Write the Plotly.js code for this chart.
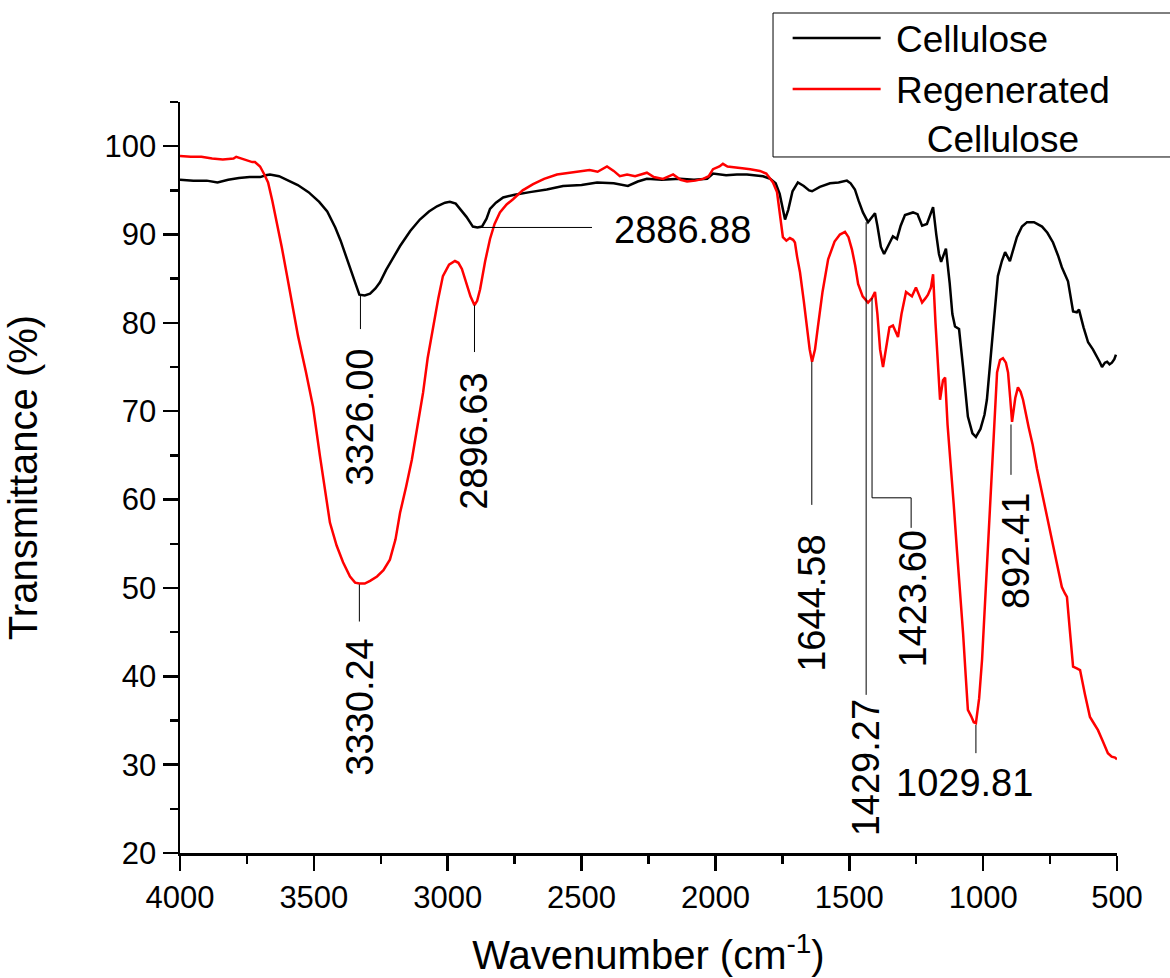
<!DOCTYPE html>
<html>
<head>
<meta charset="utf-8">
<script src="https://cdn.plot.ly/plotly-3.0.1.min.js"></script>
<style>html,body{margin:0;padding:0;background:#fff;}#chart{width:1170px;height:978px;}</style>
</head>
<body>
<div id="chart"></div>
<script>
// Cellulose (black)
const celluloseWn = [4000,3950,3900,3860,3820,3780,3740,3700,3680,3664,3630,3600,3560,3520,3480,3450,3420,3400,3380,3360,3345,3330,3310,3290,3270,3253,3230,3200,3178,3140,3104,3070,3040,3010,2992,2970,2954,2930,2906,2889,2872,2855,2842,2820,2793,2750,2693,2630,2569,2500,2442,2380,2327,2290,2256,2200,2132,2080,2031,2009,1960,1920,1882,1850,1822,1795,1775,1760,1750,1740,1728,1712,1692,1670,1650,1639,1610,1572,1540,1509,1495,1479,1465,1449,1430,1415,1404,1395,1382,1370,1355,1337,1322,1308,1292,1262,1245,1228,1210,1195,1187,1175,1165,1157,1139,1125,1115,1105,1090,1075,1057,1040,1027,1010,995,986,970,955,945,930,918,900,885,874,855,836,810,780,760,739,720,706,683,670,664,650,642,625,608,590,578,565,556,545,537,528,519,510,504];
const celluloseT = [96.2,96.1,96.1,95.9,96.2,96.4,96.5,96.5,96.7,96.8,96.6,96.2,95.6,94.8,93.7,92.6,90.8,89.3,87.5,85.8,84.6,83.2,83.1,83.3,83.9,84.6,86.0,87.6,88.7,90.4,91.7,92.6,93.2,93.6,93.7,93.5,92.9,92.0,90.9,90.8,90.9,91.8,92.9,93.6,94.2,94.5,94.8,95.1,95.5,95.6,95.9,95.8,95.5,96.0,96.3,96.2,96.3,96.2,96.3,96.9,96.7,96.8,96.8,96.7,96.6,96.3,95.8,94.6,93.2,91.7,92.8,94.9,95.9,95.5,95.0,94.9,95.4,95.8,95.9,96.1,95.8,95.1,93.8,92.5,91.4,92.0,92.4,91.0,88.6,87.8,88.8,89.8,89.5,91.0,92.2,92.5,92.3,91.0,91.2,92.4,93.1,90.0,87.8,86.9,88.4,84.5,81.0,79.6,79.3,75.0,69.4,67.5,67.1,68.0,69.6,71.3,77.0,82.5,85.3,87.0,88.0,87.0,88.5,89.7,90.9,91.4,91.4,90.9,90.2,89.1,87.6,86.3,84.7,82.5,81.3,81.2,81.5,79.5,77.8,77.0,76.4,75.6,75.0,75.5,75.6,75.3,75.5,75.9,76.4];

// Regenerated cellulose (red)
const regenWn = [4000,3960,3920,3880,3840,3800,3790,3760,3730,3720,3701,3685,3671,3655,3638,3620,3600,3580,3559,3530,3503,3477,3460,3440,3415,3391,3365,3346,3330,3310,3290,3264,3240,3216,3195,3178,3155,3134,3112,3092,3075,3055,3035,3018,2995,2973,2960,2947,2930,2915,2900,2890,2879,2860,2842,2825,2805,2780,2756,2720,2681,2640,2592,2550,2506,2470,2440,2405,2380,2357,2330,2300,2256,2230,2196,2175,2158,2130,2106,2075,2046,2025,2009,1985,1972,1955,1934,1900,1870,1834,1810,1796,1785,1770,1760,1748,1735,1722,1710,1703,1695,1684,1670,1658,1648,1639,1628,1617,1600,1579,1555,1535,1516,1503,1490,1478,1467,1450,1430,1415,1404,1395,1385,1374,1362,1350,1337,1325,1318,1305,1288,1266,1251,1240,1228,1215,1206,1195,1187,1178,1168,1161,1150,1142,1133,1124,1110,1098,1085,1075,1065,1057,1045,1035,1027,1015,1004,993,982,972,963,955,948,937,926,915,907,899,892,880,870,860,851,830,815,799,775,750,730,706,695,687,677,664,650,638,620,601,585,571,555,534,520,507,500];
const regenT = [98.9,98.8,98.8,98.6,98.5,98.6,98.8,98.5,98.2,98.2,97.7,96.8,95.9,93.8,91.4,88.6,85.3,82.0,78.5,74.5,70.5,64.9,61.5,57.4,54.8,52.9,51.3,50.6,50.5,50.5,50.8,51.3,52.0,53.2,55.5,58.5,61.5,64.5,68.5,72.1,76.0,79.6,82.8,85.3,86.6,87.0,86.8,86.1,84.5,83.0,82.0,82.5,83.8,87.0,89.5,91.2,92.5,93.4,94.0,95.0,95.7,96.3,96.8,97.0,97.2,97.3,97.1,97.7,97.2,96.6,96.8,96.6,97.0,96.5,96.3,96.6,96.8,96.2,96.0,96.1,96.3,96.6,97.4,97.7,98.0,97.7,97.6,97.5,97.4,97.2,96.9,96.3,95.9,94.8,92.5,89.7,89.3,89.6,89.4,89.1,87.5,85.7,82.5,79.6,77.0,75.6,77.0,79.6,83.5,87.2,89.2,90.0,90.3,89.7,88.3,86.5,84.4,83.0,82.3,82.8,83.5,81.0,77.0,75.0,77.5,79.5,79.7,78.8,78.4,81.0,83.5,83.0,84.0,83.2,82.3,82.8,83.2,84.0,85.5,80.0,75.0,71.3,73.5,73.8,68.5,64.5,59.5,54.3,49.5,44.9,40.0,36.2,35.5,34.8,34.7,37.5,41.9,48.0,54.3,60.5,66.0,70.5,74.4,75.8,76.0,75.5,74.4,71.5,68.8,71.5,72.7,72.2,71.3,68.2,66.2,63.5,60.0,56.3,53.3,50.1,49.4,49.0,45.5,41.1,40.9,40.7,38.0,35.4,34.6,33.9,32.8,31.3,30.9,30.8,30.6];

const seriesNames = ['\u00a0Cellulose', '\u00a0Regenerated<br>\u00a0\u00a0\u00a0\u00a0Cellulose'];
const xTickVals = [4000,3500,3000,2500,2000,1500,1000,500];
const yTickVals = [20,30,40,50,60,70,80,90,100];

// Peak labels (text), with label/leader placement in data units
const peakLabels = ['3326.00','3330.24','2896.63','2886.88','1644.58','1429.27','1423.60','1029.81','892.41'];

const FONT = 'Liberation Sans, Arial, sans-serif';

const traces = [
  {x: celluloseWn, y: celluloseT, name: seriesNames[0], type: 'scatter', mode: 'lines',
   line: {color: '#000000', width: 2.5}},
  {x: regenWn, y: regenT, name: seriesNames[1], type: 'scatter', mode: 'lines',
   line: {color: '#ff0000', width: 2.5}}
];

// leader-line geometry
const leaders = [
  [[3326,83.1],[3326,79.3]],
  [[3330,50.4],[3330,46.2]],
  [[2900,82.0],[2900,76.7]],
  [[2889,90.8],[2461,90.8]],
  [[1640,75.6],[1640,59.4]],
  [[1437,91.4],[1437,37.9]],
  [[1415,82.8],[1415,60.2],[1269,60.2],[1269,56.8]],
  [[1027,34.5],[1027,31.3]],
  [[896,68.5],[896,62.8]]
];
const shapes = leaders.map(pts => ({
  type: 'path', xref: 'x', yref: 'y',
  path: pts.map((p, i) => (i ? 'L' : 'M') + p[0] + ',' + p[1]).join(' '),
  line: {color: '#000000', width: 1}
}));
// legend frame
shapes.push({type: 'rect', xref: 'paper', yref: 'paper', x0: 0.6329, x1: 1.07, y0: 0.9268, y1: 1.1185,
  line: {color: '#000000', width: 1}, fillcolor: 'rgba(0,0,0,0)', layer: 'above'});

const labelPos = [
  [3326, 69.3, -90, 'center'],
  [3326, 36.5, -90, 'center'],
  [2900, 66.6, -90, 'center'],
  [2386, 90.5, 0, 'left'],
  [1640, 48.3, -90, 'center'],
  [1437, 29.6, -90, 'center'],
  [1262, 48.7, -90, 'center'],
  [1068, 27.9, 0, 'center'],
  [877, 54.2, -90, 'center']
];
const annotations = peakLabels.map((t, i) => ({
  x: labelPos[i][0], y: labelPos[i][1], xref: 'x', yref: 'y', text: t,
  textangle: labelPos[i][2], xanchor: labelPos[i][3], yanchor: 'middle',
  showarrow: false, font: {family: FONT, size: 38, color: '#000000'}
}));

const layout = {
  width: 1170, height: 978,
  margin: {l: 180, r: 53, t: 102, b: 125, autoexpand: false},
  paper_bgcolor: '#ffffff', plot_bgcolor: '#ffffff',
  font: {family: FONT, color: '#000000'},
  showlegend: true,
  legend: {x: 0.6485, y: 1.126, xanchor: 'left', yanchor: 'top', bgcolor: 'rgba(0,0,0,0)',
    borderwidth: 0, font: {family: FONT, size: 37, color: '#000000'}, itemwidth: 88, valign: 'top',
    tracegroupgap: 0},
  xaxis: {
    range: [4000, 500], tickvals: xTickVals, ticktext: xTickVals.map(String),
    ticks: 'outside', ticklen: 15, tickwidth: 2.5, tickcolor: '#000000',
    minor: {dtick: 250, tick0: 0, ticks: 'outside', ticklen: 8, tickwidth: 2.5, tickcolor: '#000000'},
    showline: true, linewidth: 2.5, linecolor: '#000000', mirror: false,
    showgrid: false, zeroline: false,
    tickfont: {family: FONT, size: 31, color: '#000000'},
    title: {text: 'Wavenumber (cm<sup>-1</sup>)', font: {family: FONT, size: 40, color: '#000000'}, standoff: 28},
    automargin: false
  },
  yaxis: {
    range: [20, 105], tickvals: yTickVals, ticktext: yTickVals.map(String),
    ticks: 'outside', ticklen: 15, tickwidth: 2.5, tickcolor: '#000000',
    minor: {dtick: 5, tick0: 0, ticks: 'outside', ticklen: 8, tickwidth: 2.5, tickcolor: '#000000'},
    showline: true, linewidth: 2.5, linecolor: '#000000', mirror: false,
    showgrid: false, zeroline: false,
    tickfont: {family: FONT, size: 31, color: '#000000'},
    title: {text: 'Transmittance (%)', font: {family: FONT, size: 40, color: '#000000'}, standoff: 55},
    automargin: false
  },
  shapes: shapes,
  annotations: annotations
};

Plotly.newPlot('chart', traces, layout, {displayModeBar: false, staticPlot: true});
</script>
</body>
</html>
